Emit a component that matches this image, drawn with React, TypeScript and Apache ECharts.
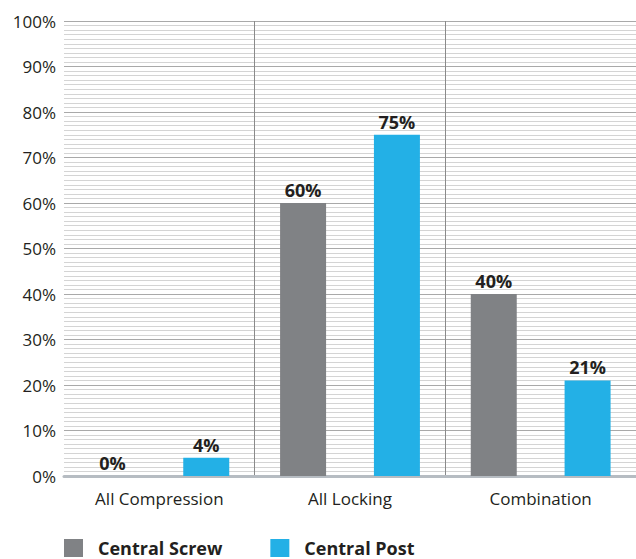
import React, { useEffect, useRef } from "react";
import * as echarts from "echarts";

const categories = ["All Compression", "All Locking", "Combination"];
const centralScrew = [0, 60, 40];
const centralPost = [4, 75, 21];
const seriesNames = ["Central Screw", "Central Post"];
const seriesColors = ["#808285", "#23b0e6"];

const FONT = "'Open Sans', Roboto, sans-serif";

export default function App() {
  const ref = useRef<HTMLDivElement>(null);

  useEffect(() => {
    if (!ref.current) return;
    const chart = echarts.init(ref.current, null, { renderer: "svg" });

    const label = {
      show: true,
      position: "top" as const,
      distance: 4,
      formatter: "{c}%",
      color: "#231f20",
      fontFamily: FONT,
      fontWeight: "bold" as const,
      fontSize: 18,
    };

    chart.setOption({
      animation: false,
      backgroundColor: "#ffffff",
      textStyle: { fontFamily: FONT },
      grid: { left: 64, top: 21, right: 0, height: 455, containLabel: false },
      legend: {
        left: 64,
        top: 539,
        padding: 0,
        icon: "rect",
        itemWidth: 19,
        itemHeight: 18,
        itemGap: 48,
        textStyle: {
          fontFamily: FONT,
          fontWeight: "bold",
          fontSize: 18,
          lineHeight: 18,
          color: "#231f20",
          padding: [0, 0, 0, 10],
        },
        data: seriesNames,
      },
      xAxis: {
        type: "category",
        data: categories,
        axisLine: { show: true, lineStyle: { color: "#b6bcc2", width: 3 } },
        axisTick: { show: false },
        axisLabel: {
          color: "#231f20",
          fontFamily: FONT,
          fontSize: 17,
          margin: 14,
        },
        splitLine: {
          show: true,
          showMinLine: false,
          showMaxLine: false,
          lineStyle: { color: "#8a8a8a", width: 1 },
        },
        z: 3,
      },
      yAxis: {
        type: "value",
        min: 0,
        max: 100,
        interval: 10,
        axisLine: { show: false },
        axisTick: { show: false },
        axisLabel: {
          formatter: "{value}%",
          color: "#231f20",
          fontFamily: FONT,
          fontSize: 17,
          margin: 8,
        },
        splitLine: { show: true, lineStyle: { color: "#a9a9a9", width: 1 } },
        minorTick: { show: false, splitNumber: 10 },
        minorSplitLine: { show: true, lineStyle: { color: "#d4d4d4", width: 1 } },
      },
      series: [
        {
          name: seriesNames[0],
          type: "bar",
          data: centralScrew,
          barWidth: 46,
          barGap: "104%",
          itemStyle: { color: seriesColors[0] },
          label,
          z: 4,
        },
        {
          name: seriesNames[1],
          type: "bar",
          data: centralPost,
          barWidth: 46,
          barGap: "104%",
          itemStyle: { color: seriesColors[1] },
          label,
          z: 4,
        },
      ],
    });

    return () => chart.dispose();
  }, []);

  return (
    <div
      ref={ref}
      style={{ position: "fixed", left: 0, top: 0, width: 636, height: 559 }}
    />
  );
}
